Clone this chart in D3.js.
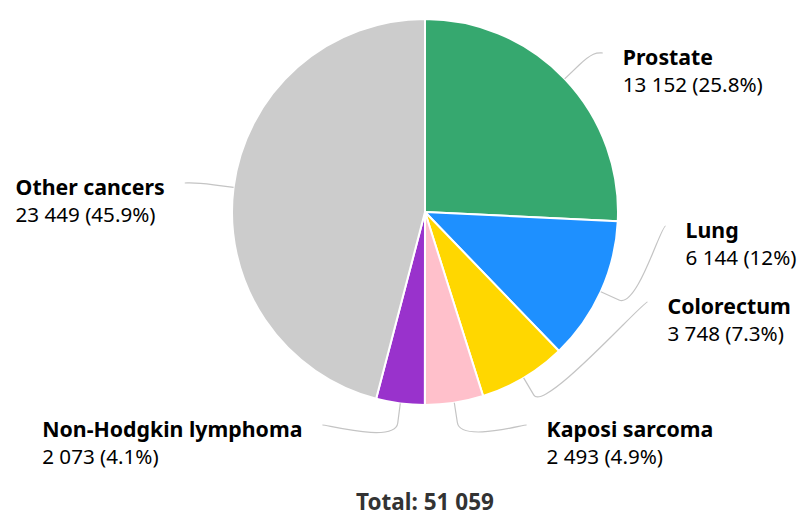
<!DOCTYPE html>
<html>
<head>
<meta charset="utf-8">
<script src="https://cdn.jsdelivr.net/npm/d3@7"></script>
<style>
  body { margin: 0; background: #fff; }
  svg { display: block; font-family: "Noto Sans", "Open Sans", sans-serif; }
</style>
</head>
<body>
<script>
// Data.
const cancers = ["Prostate", "Lung", "Colorectum", "Kaposi sarcoma", "Non-Hodgkin lymphoma", "Other cancers"];
const cases = [13152, 6144, 3748, 2493, 2073, 23449];
const percents = ["25.8%", "12%", "7.3%", "4.9%", "4.1%", "45.9%"];
const colors = ["#36a86f", "#1e90ff", "#ffd700", "#ffc0cb", "#9932cc", "#cccccc"];
const totalCases = 51059;

// Label placement after the overlap shuffle (layout only).
const labelY = [53, 226, 302, 425, 425, 183];
const labelShift = [-2, 1, 0, -9, 8, -2];

const width = 800, height = 517;
const cx = 425, cy = 212, radius = 193;
const labelRadius = 240, breakOffset = 20, textGap = 20;

const fmt = n => d3.format(",")(n).replace(/,/g, " ");

const svg = d3.select("body").append("svg")
  .attr("width", width)
  .attr("height", height);

const pie = d3.pie().sort(null).value(d => d.value);
const arcs = pie(cancers.map((name, i) => ({ name, value: cases[i], pct: percents[i], color: colors[i] })));

const arc = d3.arc().innerRadius(0).outerRadius(radius);

const g = svg.append("g").attr("transform", `translate(${cx},${cy})`);

g.selectAll("path.slice")
  .data(arcs)
  .enter().append("path")
  .attr("class", "slice")
  .attr("d", arc)
  .attr("fill", d => d.data.color)
  .attr("stroke", "#fff")
  .attr("stroke-width", 2)
  .attr("stroke-linejoin", "round");

// Connectors and labels.
arcs.forEach((d, i) => {
  const mid = (d.startAngle + d.endAngle) / 2;
  const sx = Math.sin(mid), sy = -Math.cos(mid);
  const right = mid < Math.PI;
  const touch = [radius * sx, radius * sy];
  const brk = [(radius + breakOffset) * sx, (radius + breakOffset) * sy];
  const ly = labelY[i] - cy;
  const lx = (right ? 1 : -1) * Math.sqrt(Math.max(0, labelRadius * labelRadius - ly * ly)) + labelShift[i];

  const p = d3.path();
  p.moveTo(lx, ly);
  p.bezierCurveTo(lx + (right ? -5 : 5), ly, 2 * brk[0] - touch[0], 2 * brk[1] - touch[1], brk[0], brk[1]);
  p.lineTo(touch[0], touch[1]);

  g.append("path")
    .attr("d", p.toString())
    .attr("fill", "none")
    .attr("stroke", "#c4c4c4")
    .attr("stroke-width", 1.2);

  const tx = lx + (right ? textGap : -textGap);
  const label = g.append("text")
    .attr("class", right ? "lbl" : "lbl left")
    .attr("x", tx)
    .attr("y", ly + 12)
    .attr("text-anchor", right ? "start" : "end")
    .attr("fill", "#000");
  label.append("tspan")
    .attr("font-weight", "bold")
    .style("font-size", "21.3px")
    .text(d.data.name);
  label.append("tspan")
    .attr("x", tx)
    .attr("dy", 27)
    .style("font-size", "20.6px")
    .text(`${fmt(d.data.value)} (${d.data.pct})`);
});

// Left-side value lines start at the same x as the bold name.
g.selectAll("text.left").each(function() {
  const t = d3.select(this);
  const name = t.select("tspan").node();
  const left = name.getBBox().x;
  t.attr("text-anchor", "start");
  t.selectAll("tspan").attr("x", left);
});

svg.append("text")
  .attr("x", cx)
  .attr("y", 510)
  .attr("text-anchor", "middle")
  .attr("font-weight", "bold")
  .attr("fill", "#333")
  .style("font-size", "22.5px")
  .text(`Total: ${fmt(totalCases)}`);
</script>
</body>
</html>
